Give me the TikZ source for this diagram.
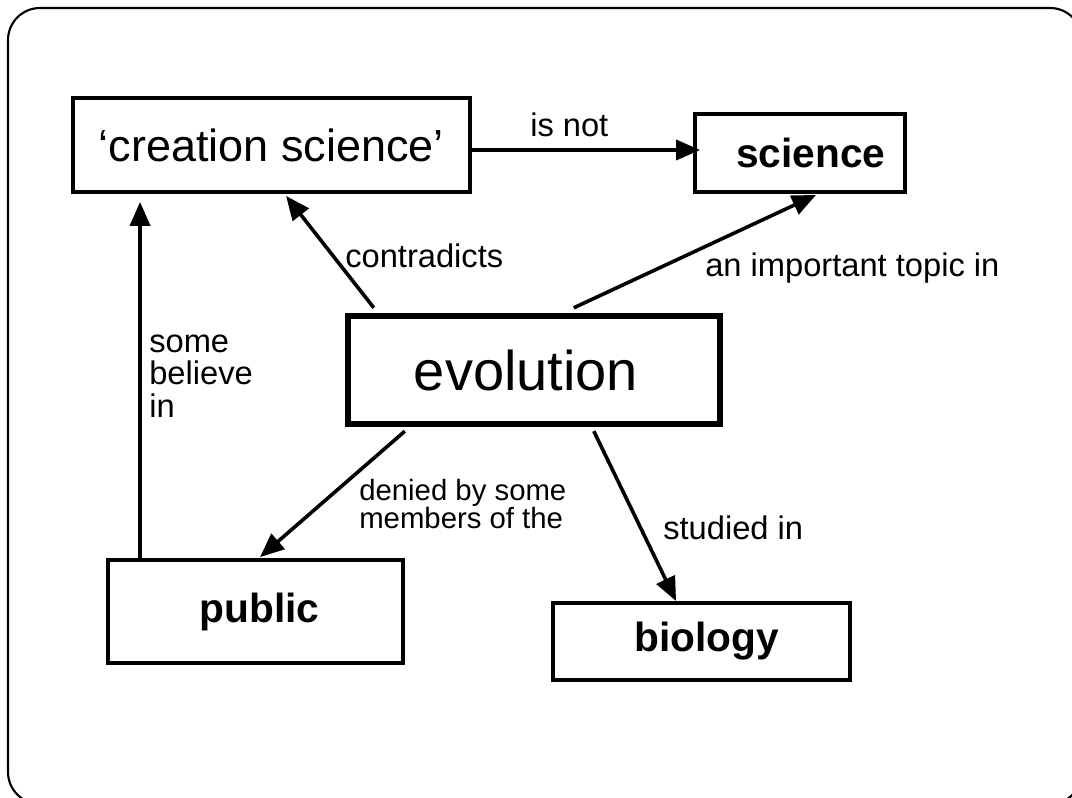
\documentclass[tikz,border=0pt]{standalone}
\usepackage{fontspec}
\setmainfont{Liberation Sans}
\usetikzlibrary{arrows.meta,calc}
\begin{document}
\begin{tikzpicture}[x=0.75pt,y=-0.75pt,
  box/.style={draw,line width=2.9pt,inner sep=0pt,fill=white},
  bword/.style={font=\fontsize{30.5}{33}\selectfont\bfseries},
  arr/.style={line width=2.7pt,-{Triangle[length=18pt,width=15pt]}},
  lbl/.style={inner sep=0pt,anchor=west,align=left,font=\fontsize{24.5}{24.5}\selectfont},
]
\clip (0,0) rectangle (1072,798);
\fill[white] (0,0) rectangle (1072,798);
\draw[line width=1.6pt,rounded corners=24pt] (8,8) rectangle (1082,804);

\node[box,minimum width=397*0.75pt,minimum height=94*0.75pt,font=\fontsize{33.75}{36}\selectfont] (cs) at (271.5,145) {‘creation science’};
\node[box,bword,minimum width=210*0.75pt,minimum height=78*0.75pt] (sci) at (800,153) {\hspace*{16pt}science};
\node[box,line width=4.8pt,minimum width=372*0.75pt,minimum height=108*0.75pt,font=\fontsize{42}{44}\selectfont] (evo) at (534,370) {evolution\hspace*{12pt}};
\node[box,bword,minimum width=295*0.75pt,minimum height=103*0.75pt] (pub) at (255.5,611.5) {\hspace*{6pt}public};
\node[box,bword,minimum width=297*0.75pt,minimum height=77*0.75pt] (bio) at (701.5,641.5) {\hspace*{8pt}biology};

\draw[arr] ($(cs.east)+(0,5)$) -- ($(sci.west)+(7,-3)$);
\draw[arr] ($(evo.north west)+(29,-5)$) -- ($(cs.south west)+(215,2)$);
\draw[arr] ($(evo.north west)+(229,-5)$) -- ($(sci.south west)+(123,1)$);
\draw[arr] ($(evo.south west)+(60,4)$) -- ($(pub.north west)+(154,-1)$);
\draw[arr] ($(evo.south west)+(249,4)$) -- ($(bio.north west)+(125,0)$);
\draw[arr] ($(pub.north west)+(34,0)$) -- ($(cs.south west)+(69,8)$);

\node[lbl] (l1) at (530,125) {is not};
\node[lbl] (l2) at (345,256) {contradicts};
\node[lbl] (l3) at (705,268) {an important topic in};
\node[lbl,font=\fontsize{22}{21}\selectfont] (l4) at (359,504) {denied by some\\members of the};
\node[lbl] (l5) at (663,528) {studied in};
\node[lbl] (l6) at (149,376) {some\\believe\\in};
\end{tikzpicture}
\end{document}
